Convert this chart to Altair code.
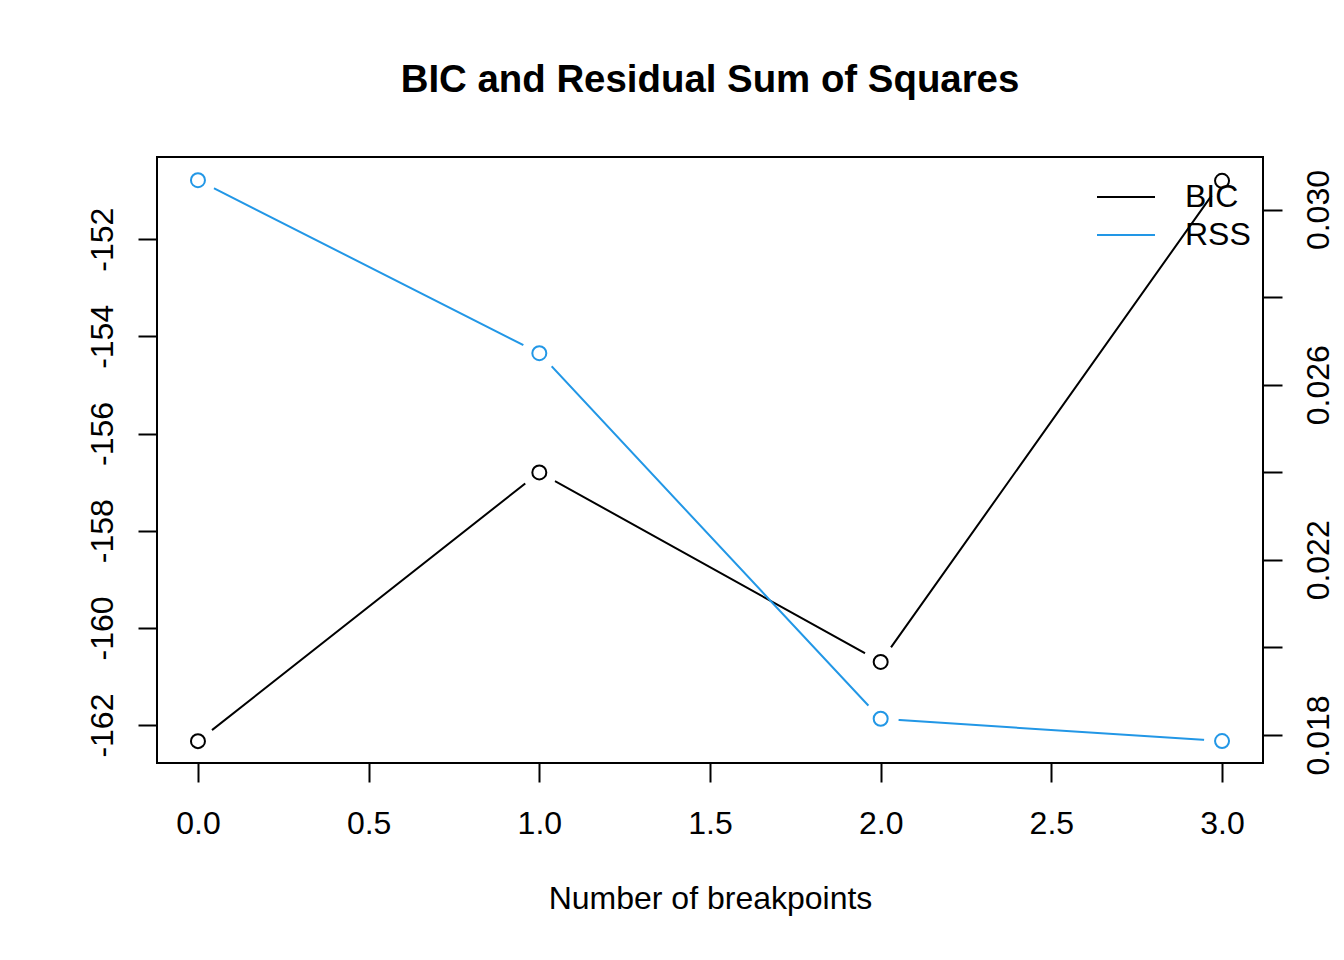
import altair as alt
import pandas as pd

# ---- data ----
breakpoints = [0, 1, 2, 3]
bic_values = [-162.33, -156.80, -160.70, -150.80]
rss_values = [0.03067, 0.02672, 0.01837, 0.01786]
series_names = ["BIC", "RSS"]
series_colors = ["#000000", "#2297E6"]
x_ticks = [0.0, 0.5, 1.0, 1.5, 2.0, 2.5, 3.0]
bic_ticks = [-162, -160, -158, -156, -154, -152]
rss_ticks = [0.018, 0.020, 0.022, 0.024, 0.026, 0.028, 0.030]

df = pd.DataFrame({
    "breakpoints": breakpoints * 2,
    "series": [series_names[0]] * len(breakpoints) + [series_names[1]] * len(breakpoints),
    "value": bic_values + rss_values,
})

FONT = "Liberation Sans"

x_enc = alt.X(
    "breakpoints:Q",
    scale=alt.Scale(domain=[-0.12, 3.12], nice=False, zero=False),
    axis=alt.Axis(
        values=x_ticks, format=".1f", title="Number of breakpoints",
        labelBaseline="alphabetic", labelAlign="center", labelPadding=51,
        labelFlush=False, labelOverlap=False,
        titleY=145, titleBaseline="alphabetic",
    ),
)

color_enc = alt.Color(
    "series:N",
    scale=alt.Scale(domain=series_names, range=series_colors),
    legend=alt.Legend(
        title=None, orient="none", legendX=953, legendY=24,
        symbolType="M-14.5,0H14.5", symbolSize=16, symbolStrokeWidth=2,
        symbolFillColor="transparent",
        labelFont=FONT, labelFontSize=32, labelColor="black",
        labelOffset=43, rowPadding=6, padding=0,
    ),
)


def series_layer(name, y_enc):
    base = alt.Chart().transform_filter(alt.datum.series == name)
    line = base.mark_line(strokeWidth=2).encode(x=x_enc, y=y_enc, color=color_enc)
    gap = base.mark_point(shape="circle", filled=True, size=1300, color="white",
                          opacity=1, strokeWidth=0).encode(x=x_enc, y=y_enc)
    pts = base.mark_point(shape="circle", filled=False, size=196, strokeWidth=2,
                          opacity=1).encode(x=x_enc, y=y_enc, color=color_enc)
    return alt.layer(line, gap, pts)


y_bic = alt.Y(
    "value:Q",
    scale=alt.Scale(domain=[-162.78, -150.31], nice=False, zero=False),
    axis=alt.Axis(
        orient="left", values=bic_ticks, title=None, labelAngle=270,
        labelAlign="center", labelBaseline="alphabetic", labelPadding=26,
        labelExpr="'' + datum.value", labelFlush=False, labelOverlap=False,
    ),
)

y_rss = alt.Y(
    "value:Q",
    scale=alt.Scale(domain=[0.01736, 0.03120], nice=False, zero=False),
    axis=alt.Axis(
        orient="right", values=rss_ticks, title=None, labelAngle=270,
        labelAlign="center", labelBaseline="alphabetic", labelPadding=46,
        labelExpr="round(datum.value*1000) % 4 == 2 ? format(datum.value, '.3f') : ''",
        labelFlush=False, labelOverlap=False,
    ),
)

chart = (
    alt.layer(series_layer("BIC", y_bic), series_layer("RSS", y_rss), data=df)
    .resolve_scale(y="independent")
    .properties(
        width=1106, height=606,
        autosize=alt.AutoSizeParams(type="none"),
        padding={"left": 149, "top": 149, "right": 73, "bottom": 189},
        title=alt.TitleParams(
            "BIC and Residual Sum of Squares", font=FONT, fontSize=38.4,
            fontWeight="bold", anchor="middle", baseline="alphabetic",
            offset=27, color="black",
        ),
    )
    .configure_view(stroke="black", strokeWidth=2)
    .configure_axis(
        labelFont=FONT, labelFontSize=32, labelColor="black",
        titleFont=FONT, titleFontSize=32, titleFontWeight="normal", titleColor="black",
        tickColor="black", tickWidth=2, tickSize=19, domain=False, grid=False,
    )
)

chart.save("out.html", embed_options={"renderer": "svg", "actions": False})
